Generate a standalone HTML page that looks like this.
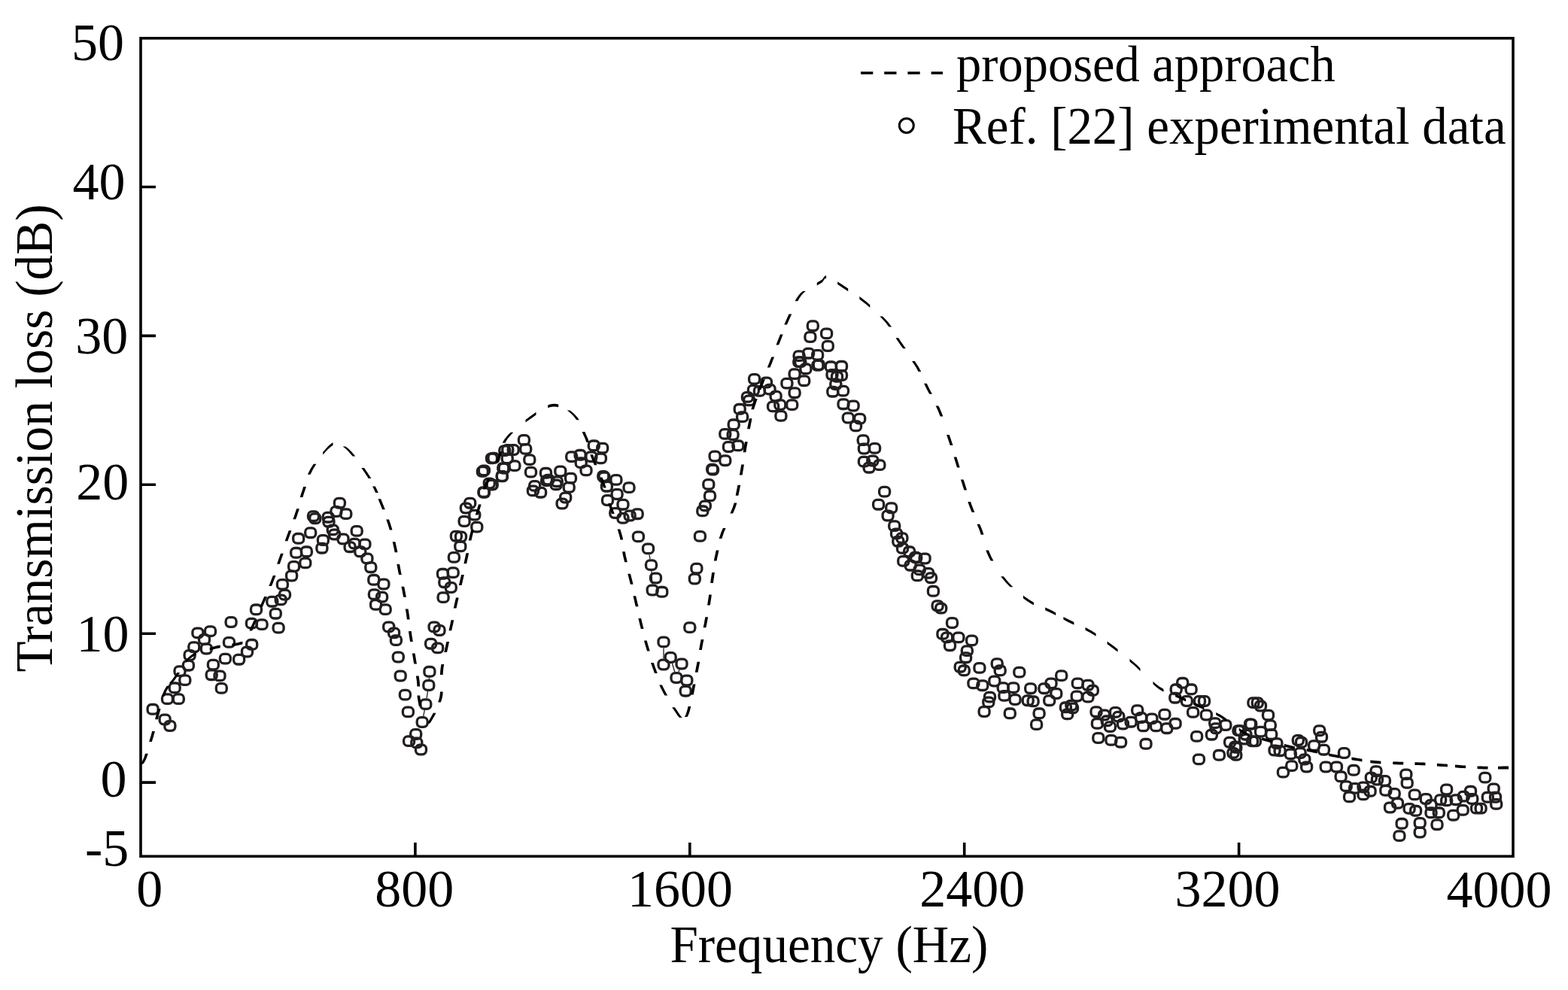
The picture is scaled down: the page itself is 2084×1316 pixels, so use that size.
<!DOCTYPE html>
<html><head><meta charset="utf-8"><title>Transmission loss vs frequency</title>
<style>
html,body{margin:0;padding:0;background:#fff;}
body{width:2084px;height:1316px;overflow:hidden;}
svg{display:block;}
text{font-family:'Liberation Serif','Times New Roman',serif;fill:#000;}
</style></head><body>
<svg width="2084" height="1316" viewBox="0 0 2084 1316">
<rect width="2084" height="1316" fill="#fff"/>
<path d="M562.7,952.1 L564.3,944.0 M567.1,928.2 L568.5,918.9 M570.3,903.0 L570.4,900.8 M863.0,737.3 L864.0,743.2 M865.9,759.1 L866.8,776.5 M882.0,861.4 L882.0,875.5 M893.4,881.7 L896.8,893.3 M901.9,893.4 L903.1,890.1" fill="none" stroke="#231f20" stroke-width="1.3"/>
<g fill="none" stroke="#231f20" stroke-width="3.3">
<rect x="196.1" y="936.5" width="14.0" height="12.6" rx="5.2"/>
<rect x="212.1" y="950.2" width="14.0" height="12.6" rx="5.2"/>
<rect x="218.9" y="958.7" width="14.0" height="12.6" rx="5.2"/>
<rect x="215.5" y="922.8" width="14.0" height="12.6" rx="5.2"/>
<rect x="230.3" y="922.8" width="14.0" height="12.6" rx="5.2"/>
<rect x="232.0" y="885.8" width="14.0" height="12.6" rx="5.2"/>
<rect x="238.8" y="897.8" width="14.0" height="12.6" rx="5.2"/>
<rect x="225.2" y="908.0" width="14.0" height="12.6" rx="5.2"/>
<rect x="243.4" y="878.4" width="14.0" height="12.6" rx="5.2"/>
<rect x="245.1" y="864.7" width="14.0" height="12.6" rx="5.2"/>
<rect x="250.8" y="853.9" width="14.0" height="12.6" rx="5.2"/>
<rect x="255.9" y="835.1" width="14.0" height="12.6" rx="5.2"/>
<rect x="272.5" y="832.8" width="14.0" height="12.6" rx="5.2"/>
<rect x="264.5" y="843.6" width="14.0" height="12.6" rx="5.2"/>
<rect x="267.3" y="856.2" width="14.0" height="12.6" rx="5.2"/>
<rect x="276.4" y="877.3" width="14.0" height="12.6" rx="5.2"/>
<rect x="274.2" y="890.9" width="14.0" height="12.6" rx="5.2"/>
<rect x="285.0" y="892.1" width="14.0" height="12.6" rx="5.2"/>
<rect x="287.3" y="908.6" width="14.0" height="12.6" rx="5.2"/>
<rect x="292.4" y="869.3" width="14.0" height="12.6" rx="5.2"/>
<rect x="297.5" y="847.6" width="14.0" height="12.6" rx="5.2"/>
<rect x="310.6" y="870.4" width="14.0" height="12.6" rx="5.2"/>
<rect x="321.5" y="860.2" width="14.0" height="12.6" rx="5.2"/>
<rect x="327.7" y="850.5" width="14.0" height="12.6" rx="5.2"/>
<rect x="300.1" y="820.7" width="14.0" height="12.6" rx="5.2"/>
<rect x="327.4" y="822.3" width="14.0" height="12.6" rx="5.2"/>
<rect x="341.1" y="823.8" width="14.0" height="12.6" rx="5.2"/>
<rect x="363.1" y="828.3" width="14.0" height="12.6" rx="5.2"/>
<rect x="359.3" y="809.4" width="14.0" height="12.6" rx="5.2"/>
<rect x="333.5" y="804.0" width="14.0" height="12.6" rx="5.2"/>
<rect x="354.8" y="793.4" width="14.0" height="12.6" rx="5.2"/>
<rect x="366.2" y="791.1" width="14.0" height="12.6" rx="5.2"/>
<rect x="371.5" y="784.3" width="14.0" height="12.6" rx="5.2"/>
<rect x="368.4" y="770.6" width="14.0" height="12.6" rx="5.2"/>
<rect x="380.6" y="759.2" width="14.0" height="12.6" rx="5.2"/>
<rect x="444.4" y="662.4" width="14.0" height="12.6" rx="5.2"/>
<rect x="452.8" y="676.8" width="14.0" height="12.6" rx="5.2"/>
<rect x="439.9" y="673.7" width="14.0" height="12.6" rx="5.2"/>
<rect x="409.5" y="679.8" width="14.0" height="12.6" rx="5.2"/>
<rect x="411.8" y="682.9" width="14.0" height="12.6" rx="5.2"/>
<rect x="429.2" y="681.4" width="14.0" height="12.6" rx="5.2"/>
<rect x="430.0" y="687.4" width="14.0" height="12.6" rx="5.2"/>
<rect x="435.3" y="698.1" width="14.0" height="12.6" rx="5.2"/>
<rect x="437.6" y="704.2" width="14.0" height="12.6" rx="5.2"/>
<rect x="405.7" y="701.9" width="14.0" height="12.6" rx="5.2"/>
<rect x="389.7" y="709.5" width="14.0" height="12.6" rx="5.2"/>
<rect x="422.4" y="711.7" width="14.0" height="12.6" rx="5.2"/>
<rect x="420.9" y="722.4" width="14.0" height="12.6" rx="5.2"/>
<rect x="400.4" y="727.0" width="14.0" height="12.6" rx="5.2"/>
<rect x="386.7" y="728.5" width="14.0" height="12.6" rx="5.2"/>
<rect x="398.8" y="742.1" width="14.0" height="12.6" rx="5.2"/>
<rect x="383.6" y="746.7" width="14.0" height="12.6" rx="5.2"/>
<rect x="449.0" y="710.2" width="14.0" height="12.6" rx="5.2"/>
<rect x="467.2" y="699.6" width="14.0" height="12.6" rx="5.2"/>
<rect x="458.1" y="720.9" width="14.0" height="12.6" rx="5.2"/>
<rect x="464.2" y="716.3" width="14.0" height="12.6" rx="5.2"/>
<rect x="477.9" y="717.1" width="14.0" height="12.6" rx="5.2"/>
<rect x="471.8" y="727.0" width="14.0" height="12.6" rx="5.2"/>
<rect x="480.9" y="736.1" width="14.0" height="12.6" rx="5.2"/>
<rect x="634.4" y="620.6" width="14.0" height="12.6" rx="5.2"/>
<rect x="646.5" y="603.1" width="14.0" height="12.6" rx="5.2"/>
<rect x="661.8" y="616.0" width="14.0" height="12.6" rx="5.2"/>
<rect x="667.8" y="591.7" width="14.0" height="12.6" rx="5.2"/>
<rect x="660.2" y="626.7" width="14.0" height="12.6" rx="5.2"/>
<rect x="646.5" y="638.0" width="14.0" height="12.6" rx="5.2"/>
<rect x="635.9" y="647.9" width="14.0" height="12.6" rx="5.2"/>
<rect x="617.7" y="662.4" width="14.0" height="12.6" rx="5.2"/>
<rect x="612.4" y="669.2" width="14.0" height="12.6" rx="5.2"/>
<rect x="623.8" y="678.3" width="14.0" height="12.6" rx="5.2"/>
<rect x="610.1" y="686.7" width="14.0" height="12.6" rx="5.2"/>
<rect x="626.8" y="694.3" width="14.0" height="12.6" rx="5.2"/>
<rect x="599.4" y="706.4" width="14.0" height="12.6" rx="5.2"/>
<rect x="605.5" y="707.2" width="14.0" height="12.6" rx="5.2"/>
<rect x="604.8" y="720.1" width="14.0" height="12.6" rx="5.2"/>
<rect x="596.4" y="734.6" width="14.0" height="12.6" rx="5.2"/>
<rect x="485.8" y="747.9" width="14.0" height="12.6" rx="5.2"/>
<rect x="489.8" y="764.5" width="14.0" height="12.6" rx="5.2"/>
<rect x="502.9" y="770.2" width="14.0" height="12.6" rx="5.2"/>
<rect x="490.4" y="783.8" width="14.0" height="12.6" rx="5.2"/>
<rect x="500.6" y="787.3" width="14.0" height="12.6" rx="5.2"/>
<rect x="492.6" y="797.5" width="14.0" height="12.6" rx="5.2"/>
<rect x="505.2" y="803.8" width="14.0" height="12.6" rx="5.2"/>
<rect x="509.7" y="827.1" width="14.0" height="12.6" rx="5.2"/>
<rect x="516.6" y="835.1" width="14.0" height="12.6" rx="5.2"/>
<rect x="519.4" y="844.8" width="14.0" height="12.6" rx="5.2"/>
<rect x="522.3" y="867.2" width="14.0" height="12.6" rx="5.2"/>
<rect x="581.5" y="756.5" width="14.0" height="12.6" rx="5.2"/>
<rect x="595.2" y="754.8" width="14.0" height="12.6" rx="5.2"/>
<rect x="583.8" y="767.9" width="14.0" height="12.6" rx="5.2"/>
<rect x="592.3" y="774.7" width="14.0" height="12.6" rx="5.2"/>
<rect x="582.1" y="787.8" width="14.0" height="12.6" rx="5.2"/>
<rect x="570.1" y="827.1" width="14.0" height="12.6" rx="5.2"/>
<rect x="577.0" y="831.7" width="14.0" height="12.6" rx="5.2"/>
<rect x="565.6" y="849.4" width="14.0" height="12.6" rx="5.2"/>
<rect x="574.7" y="855.1" width="14.0" height="12.6" rx="5.2"/>
<rect x="525.2" y="892.2" width="14.0" height="12.6" rx="5.2"/>
<rect x="531.4" y="917.3" width="14.0" height="12.6" rx="5.2"/>
<rect x="535.4" y="940.1" width="14.0" height="12.6" rx="5.2"/>
<rect x="563.9" y="886.5" width="14.0" height="12.6" rx="5.2"/>
<rect x="562.8" y="904.7" width="14.0" height="12.6" rx="5.2"/>
<rect x="558.8" y="929.8" width="14.0" height="12.6" rx="5.2"/>
<rect x="554.2" y="953.7" width="14.0" height="12.6" rx="5.2"/>
<rect x="545.7" y="969.7" width="14.0" height="12.6" rx="5.2"/>
<rect x="536.6" y="978.8" width="14.0" height="12.6" rx="5.2"/>
<rect x="546.8" y="981.1" width="14.0" height="12.6" rx="5.2"/>
<rect x="552.5" y="990.2" width="14.0" height="12.6" rx="5.2"/>
<rect x="689.4" y="578.6" width="14.0" height="12.6" rx="5.2"/>
<rect x="691.7" y="590.6" width="14.0" height="12.6" rx="5.2"/>
<rect x="696.8" y="604.8" width="14.0" height="12.6" rx="5.2"/>
<rect x="698.5" y="621.3" width="14.0" height="12.6" rx="5.2"/>
<rect x="676.9" y="612.8" width="14.0" height="12.6" rx="5.2"/>
<rect x="675.2" y="591.7" width="14.0" height="12.6" rx="5.2"/>
<rect x="667.2" y="603.1" width="14.0" height="12.6" rx="5.2"/>
<rect x="649.0" y="602.5" width="14.0" height="12.6" rx="5.2"/>
<rect x="663.2" y="616.2" width="14.0" height="12.6" rx="5.2"/>
<rect x="643.3" y="636.2" width="14.0" height="12.6" rx="5.2"/>
<rect x="660.4" y="627.0" width="14.0" height="12.6" rx="5.2"/>
<rect x="663.8" y="592.8" width="14.0" height="12.6" rx="5.2"/>
<rect x="636.4" y="619.1" width="14.0" height="12.6" rx="5.2"/>
<rect x="752.7" y="600.8" width="14.0" height="12.6" rx="5.2"/>
<rect x="764.1" y="598.5" width="14.0" height="12.6" rx="5.2"/>
<rect x="765.2" y="608.8" width="14.0" height="12.6" rx="5.2"/>
<rect x="772.0" y="619.1" width="14.0" height="12.6" rx="5.2"/>
<rect x="782.3" y="586.0" width="14.0" height="12.6" rx="5.2"/>
<rect x="793.7" y="589.4" width="14.0" height="12.6" rx="5.2"/>
<rect x="791.4" y="603.1" width="14.0" height="12.6" rx="5.2"/>
<rect x="778.9" y="600.8" width="14.0" height="12.6" rx="5.2"/>
<rect x="796.0" y="628.2" width="14.0" height="12.6" rx="5.2"/>
<rect x="811.9" y="631.6" width="14.0" height="12.6" rx="5.2"/>
<rect x="829.0" y="641.8" width="14.0" height="12.6" rx="5.2"/>
<rect x="718.5" y="622.5" width="14.0" height="12.6" rx="5.2"/>
<rect x="737.8" y="620.2" width="14.0" height="12.6" rx="5.2"/>
<rect x="751.5" y="629.3" width="14.0" height="12.6" rx="5.2"/>
<rect x="733.3" y="633.9" width="14.0" height="12.6" rx="5.2"/>
<rect x="703.7" y="639.6" width="14.0" height="12.6" rx="5.2"/>
<rect x="719.6" y="632.7" width="14.0" height="12.6" rx="5.2"/>
<rect x="647.2" y="638.1" width="14.0" height="12.6" rx="5.2"/>
<rect x="636.4" y="648.4" width="14.0" height="12.6" rx="5.2"/>
<rect x="701.4" y="646.1" width="14.0" height="12.6" rx="5.2"/>
<rect x="711.6" y="648.4" width="14.0" height="12.6" rx="5.2"/>
<rect x="721.9" y="631.3" width="14.0" height="12.6" rx="5.2"/>
<rect x="732.1" y="638.1" width="14.0" height="12.6" rx="5.2"/>
<rect x="749.2" y="641.6" width="14.0" height="12.6" rx="5.2"/>
<rect x="744.7" y="655.2" width="14.0" height="12.6" rx="5.2"/>
<rect x="740.1" y="663.2" width="14.0" height="12.6" rx="5.2"/>
<rect x="794.8" y="626.7" width="14.0" height="12.6" rx="5.2"/>
<rect x="799.4" y="640.4" width="14.0" height="12.6" rx="5.2"/>
<rect x="813.1" y="650.7" width="14.0" height="12.6" rx="5.2"/>
<rect x="800.5" y="658.7" width="14.0" height="12.6" rx="5.2"/>
<rect x="821.0" y="664.4" width="14.0" height="12.6" rx="5.2"/>
<rect x="810.8" y="675.7" width="14.0" height="12.6" rx="5.2"/>
<rect x="821.0" y="682.6" width="14.0" height="12.6" rx="5.2"/>
<rect x="830.1" y="679.2" width="14.0" height="12.6" rx="5.2"/>
<rect x="840.2" y="676.9" width="14.0" height="12.6" rx="5.2"/>
<rect x="841.4" y="707.1" width="14.0" height="12.6" rx="5.2"/>
<rect x="854.5" y="723.1" width="14.0" height="12.6" rx="5.2"/>
<rect x="858.5" y="744.8" width="14.0" height="12.6" rx="5.2"/>
<rect x="864.5" y="762.2" width="14.0" height="12.6" rx="5.2"/>
<rect x="940.5" y="618.3" width="14.0" height="12.6" rx="5.2"/>
<rect x="934.8" y="637.6" width="14.0" height="12.6" rx="5.2"/>
<rect x="936.5" y="653.0" width="14.0" height="12.6" rx="5.2"/>
<rect x="930.3" y="666.1" width="14.0" height="12.6" rx="5.2"/>
<rect x="926.8" y="673.0" width="14.0" height="12.6" rx="5.2"/>
<rect x="923.4" y="706.6" width="14.0" height="12.6" rx="5.2"/>
<rect x="918.9" y="749.3" width="14.0" height="12.6" rx="5.2"/>
<rect x="916.3" y="763.2" width="14.0" height="12.6" rx="5.2"/>
<rect x="860.2" y="778.2" width="14.0" height="12.6" rx="5.2"/>
<rect x="872.8" y="780.5" width="14.0" height="12.6" rx="5.2"/>
<rect x="909.8" y="827.8" width="14.0" height="12.6" rx="5.2"/>
<rect x="875.0" y="847.1" width="14.0" height="12.6" rx="5.2"/>
<rect x="884.2" y="867.7" width="14.0" height="12.6" rx="5.2"/>
<rect x="875.0" y="877.2" width="14.0" height="12.6" rx="5.2"/>
<rect x="899.0" y="876.2" width="14.0" height="12.6" rx="5.2"/>
<rect x="892.0" y="894.7" width="14.0" height="12.6" rx="5.2"/>
<rect x="905.8" y="898.2" width="14.0" height="12.6" rx="5.2"/>
<rect x="904.2" y="912.4" width="14.0" height="12.6" rx="5.2"/>
<rect x="939.7" y="617.3" width="14.0" height="12.6" rx="5.2"/>
<rect x="943.1" y="600.2" width="14.0" height="12.6" rx="5.2"/>
<rect x="956.8" y="605.9" width="14.0" height="12.6" rx="5.2"/>
<rect x="961.4" y="587.7" width="14.0" height="12.6" rx="5.2"/>
<rect x="973.9" y="586.0" width="14.0" height="12.6" rx="5.2"/>
<rect x="956.8" y="570.6" width="14.0" height="12.6" rx="5.2"/>
<rect x="967.1" y="571.7" width="14.0" height="12.6" rx="5.2"/>
<rect x="968.2" y="558.0" width="14.0" height="12.6" rx="5.2"/>
<rect x="979.6" y="547.8" width="14.0" height="12.6" rx="5.2"/>
<rect x="976.2" y="537.5" width="14.0" height="12.6" rx="5.2"/>
<rect x="986.4" y="521.6" width="14.0" height="12.6" rx="5.2"/>
<rect x="988.7" y="526.1" width="14.0" height="12.6" rx="5.2"/>
<rect x="995.6" y="497.6" width="14.0" height="12.6" rx="5.2"/>
<rect x="994.4" y="512.4" width="14.0" height="12.6" rx="5.2"/>
<rect x="1002.4" y="513.6" width="14.0" height="12.6" rx="5.2"/>
<rect x="1011.5" y="502.2" width="14.0" height="12.6" rx="5.2"/>
<rect x="1016.1" y="511.3" width="14.0" height="12.6" rx="5.2"/>
<rect x="1024.1" y="520.4" width="14.0" height="12.6" rx="5.2"/>
<rect x="1020.6" y="534.1" width="14.0" height="12.6" rx="5.2"/>
<rect x="1029.8" y="531.8" width="14.0" height="12.6" rx="5.2"/>
<rect x="1030.9" y="546.6" width="14.0" height="12.6" rx="5.2"/>
<rect x="1045.7" y="531.8" width="14.0" height="12.6" rx="5.2"/>
<rect x="1049.1" y="515.9" width="14.0" height="12.6" rx="5.2"/>
<rect x="1038.9" y="503.3" width="14.0" height="12.6" rx="5.2"/>
<rect x="1049.1" y="490.8" width="14.0" height="12.6" rx="5.2"/>
<rect x="1061.7" y="499.9" width="14.0" height="12.6" rx="5.2"/>
<rect x="1063.9" y="484.0" width="14.0" height="12.6" rx="5.2"/>
<rect x="1079.9" y="479.4" width="14.0" height="12.6" rx="5.2"/>
<rect x="1054.8" y="474.8" width="14.0" height="12.6" rx="5.2"/>
<rect x="1073.3" y="426.9" width="14.0" height="12.6" rx="5.2"/>
<rect x="1069.9" y="441.7" width="14.0" height="12.6" rx="5.2"/>
<rect x="1091.6" y="437.1" width="14.0" height="12.6" rx="5.2"/>
<rect x="1093.3" y="453.7" width="14.0" height="12.6" rx="5.2"/>
<rect x="1055.1" y="466.8" width="14.0" height="12.6" rx="5.2"/>
<rect x="1067.6" y="463.4" width="14.0" height="12.6" rx="5.2"/>
<rect x="1079.6" y="465.6" width="14.0" height="12.6" rx="5.2"/>
<rect x="1056.8" y="474.8" width="14.0" height="12.6" rx="5.2"/>
<rect x="1081.3" y="478.7" width="14.0" height="12.6" rx="5.2"/>
<rect x="1097.3" y="481.0" width="14.0" height="12.6" rx="5.2"/>
<rect x="1111.5" y="480.5" width="14.0" height="12.6" rx="5.2"/>
<rect x="1099.0" y="491.7" width="14.0" height="12.6" rx="5.2"/>
<rect x="1111.5" y="492.7" width="14.0" height="12.6" rx="5.2"/>
<rect x="1105.5" y="494.5" width="14.0" height="12.6" rx="5.2"/>
<rect x="1103.8" y="504.7" width="14.0" height="12.6" rx="5.2"/>
<rect x="1099.8" y="514.4" width="14.0" height="12.6" rx="5.2"/>
<rect x="1113.5" y="513.3" width="14.0" height="12.6" rx="5.2"/>
<rect x="1114.0" y="530.9" width="14.0" height="12.6" rx="5.2"/>
<rect x="1127.1" y="533.2" width="14.0" height="12.6" rx="5.2"/>
<rect x="1120.3" y="549.2" width="14.0" height="12.6" rx="5.2"/>
<rect x="1135.7" y="550.3" width="14.0" height="12.6" rx="5.2"/>
<rect x="1130.5" y="560.0" width="14.0" height="12.6" rx="5.2"/>
<rect x="1140.2" y="578.8" width="14.0" height="12.6" rx="5.2"/>
<rect x="1141.4" y="590.2" width="14.0" height="12.6" rx="5.2"/>
<rect x="1155.6" y="589.6" width="14.0" height="12.6" rx="5.2"/>
<rect x="1141.4" y="607.3" width="14.0" height="12.6" rx="5.2"/>
<rect x="1152.8" y="606.2" width="14.0" height="12.6" rx="5.2"/>
<rect x="1161.9" y="611.8" width="14.0" height="12.6" rx="5.2"/>
<rect x="1148.1" y="615.4" width="14.0" height="12.6" rx="5.2"/>
<rect x="1168.6" y="647.3" width="14.0" height="12.6" rx="5.2"/>
<rect x="1160.6" y="664.4" width="14.0" height="12.6" rx="5.2"/>
<rect x="1177.7" y="668.9" width="14.0" height="12.6" rx="5.2"/>
<rect x="1173.1" y="679.2" width="14.0" height="12.6" rx="5.2"/>
<rect x="1181.7" y="692.8" width="14.0" height="12.6" rx="5.2"/>
<rect x="1184.5" y="703.1" width="14.0" height="12.6" rx="5.2"/>
<rect x="1191.9" y="708.8" width="14.0" height="12.6" rx="5.2"/>
<rect x="1186.8" y="713.4" width="14.0" height="12.6" rx="5.2"/>
<rect x="1192.5" y="722.5" width="14.0" height="12.6" rx="5.2"/>
<rect x="1201.6" y="727.0" width="14.0" height="12.6" rx="5.2"/>
<rect x="1210.7" y="735.0" width="14.0" height="12.6" rx="5.2"/>
<rect x="1222.1" y="736.2" width="14.0" height="12.6" rx="5.2"/>
<rect x="1193.7" y="739.6" width="14.0" height="12.6" rx="5.2"/>
<rect x="1203.2" y="745.4" width="14.0" height="12.6" rx="5.2"/>
<rect x="1209.5" y="734.5" width="14.0" height="12.6" rx="5.2"/>
<rect x="1212.3" y="759.0" width="14.0" height="12.6" rx="5.2"/>
<rect x="1215.2" y="751.1" width="14.0" height="12.6" rx="5.2"/>
<rect x="1226.6" y="755.6" width="14.0" height="12.6" rx="5.2"/>
<rect x="1230.5" y="761.9" width="14.0" height="12.6" rx="5.2"/>
<rect x="1233.4" y="779.5" width="14.0" height="12.6" rx="5.2"/>
<rect x="1239.1" y="798.9" width="14.0" height="12.6" rx="5.2"/>
<rect x="1243.7" y="802.3" width="14.0" height="12.6" rx="5.2"/>
<rect x="1258.5" y="821.7" width="14.0" height="12.6" rx="5.2"/>
<rect x="1245.9" y="836.5" width="14.0" height="12.6" rx="5.2"/>
<rect x="1251.6" y="841.1" width="14.0" height="12.6" rx="5.2"/>
<rect x="1266.9" y="841.1" width="14.0" height="12.6" rx="5.2"/>
<rect x="1255.5" y="851.9" width="14.0" height="12.6" rx="5.2"/>
<rect x="1284.6" y="845.1" width="14.0" height="12.6" rx="5.2"/>
<rect x="1278.3" y="858.8" width="14.0" height="12.6" rx="5.2"/>
<rect x="1276.6" y="867.9" width="14.0" height="12.6" rx="5.2"/>
<rect x="1269.2" y="880.4" width="14.0" height="12.6" rx="5.2"/>
<rect x="1274.3" y="885.0" width="14.0" height="12.6" rx="5.2"/>
<rect x="1294.9" y="881.6" width="14.0" height="12.6" rx="5.2"/>
<rect x="1318.2" y="875.9" width="14.0" height="12.6" rx="5.2"/>
<rect x="1322.2" y="885.0" width="14.0" height="12.6" rx="5.2"/>
<rect x="1347.8" y="887.3" width="14.0" height="12.6" rx="5.2"/>
<rect x="1286.9" y="902.1" width="14.0" height="12.6" rx="5.2"/>
<rect x="1298.8" y="904.9" width="14.0" height="12.6" rx="5.2"/>
<rect x="1314.8" y="899.2" width="14.0" height="12.6" rx="5.2"/>
<rect x="1308.5" y="920.3" width="14.0" height="12.6" rx="5.2"/>
<rect x="1306.8" y="927.1" width="14.0" height="12.6" rx="5.2"/>
<rect x="1301.1" y="939.7" width="14.0" height="12.6" rx="5.2"/>
<rect x="1326.2" y="907.8" width="14.0" height="12.6" rx="5.2"/>
<rect x="1327.9" y="918.6" width="14.0" height="12.6" rx="5.2"/>
<rect x="1339.9" y="907.8" width="14.0" height="12.6" rx="5.2"/>
<rect x="1342.1" y="923.7" width="14.0" height="12.6" rx="5.2"/>
<rect x="1335.3" y="942.0" width="14.0" height="12.6" rx="5.2"/>
<rect x="1362.7" y="908.9" width="14.0" height="12.6" rx="5.2"/>
<rect x="1359.2" y="924.9" width="14.0" height="12.6" rx="5.2"/>
<rect x="1366.1" y="926.0" width="14.0" height="12.6" rx="5.2"/>
<rect x="1374.1" y="942.0" width="14.0" height="12.6" rx="5.2"/>
<rect x="1370.6" y="956.8" width="14.0" height="12.6" rx="5.2"/>
<rect x="1380.9" y="908.9" width="14.0" height="12.6" rx="5.2"/>
<rect x="1390.0" y="902.1" width="14.0" height="12.6" rx="5.2"/>
<rect x="1403.7" y="891.8" width="14.0" height="12.6" rx="5.2"/>
<rect x="1396.8" y="915.7" width="14.0" height="12.6" rx="5.2"/>
<rect x="1387.7" y="924.9" width="14.0" height="12.6" rx="5.2"/>
<rect x="1425.3" y="902.1" width="14.0" height="12.6" rx="5.2"/>
<rect x="1424.2" y="919.2" width="14.0" height="12.6" rx="5.2"/>
<rect x="1439.0" y="904.4" width="14.0" height="12.6" rx="5.2"/>
<rect x="1439.0" y="920.3" width="14.0" height="12.6" rx="5.2"/>
<rect x="1409.4" y="934.0" width="14.0" height="12.6" rx="5.2"/>
<rect x="1418.5" y="935.1" width="14.0" height="12.6" rx="5.2"/>
<rect x="1411.7" y="943.1" width="14.0" height="12.6" rx="5.2"/>
<rect x="1445.3" y="911.5" width="14.0" height="12.6" rx="5.2"/>
<rect x="1416.9" y="931.4" width="14.0" height="12.6" rx="5.2"/>
<rect x="1564.7" y="901.5" width="14.0" height="12.6" rx="5.2"/>
<rect x="1556.2" y="910.0" width="14.0" height="12.6" rx="5.2"/>
<rect x="1576.1" y="910.0" width="14.0" height="12.6" rx="5.2"/>
<rect x="1554.8" y="921.4" width="14.0" height="12.6" rx="5.2"/>
<rect x="1570.4" y="925.7" width="14.0" height="12.6" rx="5.2"/>
<rect x="1587.5" y="925.7" width="14.0" height="12.6" rx="5.2"/>
<rect x="1450.0" y="939.9" width="14.0" height="12.6" rx="5.2"/>
<rect x="1460.6" y="944.2" width="14.0" height="12.6" rx="5.2"/>
<rect x="1475.5" y="940.6" width="14.0" height="12.6" rx="5.2"/>
<rect x="1504.7" y="937.8" width="14.0" height="12.6" rx="5.2"/>
<rect x="1451.4" y="955.5" width="14.0" height="12.6" rx="5.2"/>
<rect x="1464.2" y="952.0" width="14.0" height="12.6" rx="5.2"/>
<rect x="1468.4" y="959.8" width="14.0" height="12.6" rx="5.2"/>
<rect x="1479.8" y="946.3" width="14.0" height="12.6" rx="5.2"/>
<rect x="1485.5" y="956.2" width="14.0" height="12.6" rx="5.2"/>
<rect x="1496.1" y="953.4" width="14.0" height="12.6" rx="5.2"/>
<rect x="1509.6" y="947.7" width="14.0" height="12.6" rx="5.2"/>
<rect x="1512.5" y="959.1" width="14.0" height="12.6" rx="5.2"/>
<rect x="1523.9" y="949.1" width="14.0" height="12.6" rx="5.2"/>
<rect x="1529.5" y="959.1" width="14.0" height="12.6" rx="5.2"/>
<rect x="1540.9" y="943.4" width="14.0" height="12.6" rx="5.2"/>
<rect x="1543.8" y="961.9" width="14.0" height="12.6" rx="5.2"/>
<rect x="1555.1" y="955.5" width="14.0" height="12.6" rx="5.2"/>
<rect x="1452.8" y="974.7" width="14.0" height="12.6" rx="5.2"/>
<rect x="1469.9" y="977.6" width="14.0" height="12.6" rx="5.2"/>
<rect x="1482.6" y="980.4" width="14.0" height="12.6" rx="5.2"/>
<rect x="1516.0" y="982.5" width="14.0" height="12.6" rx="5.2"/>
<rect x="1593.5" y="925.7" width="14.0" height="12.6" rx="5.2"/>
<rect x="1578.6" y="940.6" width="14.0" height="12.6" rx="5.2"/>
<rect x="1596.3" y="944.2" width="14.0" height="12.6" rx="5.2"/>
<rect x="1607.7" y="954.8" width="14.0" height="12.6" rx="5.2"/>
<rect x="1621.9" y="957.7" width="14.0" height="12.6" rx="5.2"/>
<rect x="1583.6" y="972.6" width="14.0" height="12.6" rx="5.2"/>
<rect x="1603.4" y="970.4" width="14.0" height="12.6" rx="5.2"/>
<rect x="1609.1" y="961.9" width="14.0" height="12.6" rx="5.2"/>
<rect x="1639.0" y="964.8" width="14.0" height="12.6" rx="5.2"/>
<rect x="1654.6" y="956.2" width="14.0" height="12.6" rx="5.2"/>
<rect x="1658.9" y="927.8" width="14.0" height="12.6" rx="5.2"/>
<rect x="1648.9" y="970.4" width="14.0" height="12.6" rx="5.2"/>
<rect x="1657.5" y="979.0" width="14.0" height="12.6" rx="5.2"/>
<rect x="1627.6" y="980.4" width="14.0" height="12.6" rx="5.2"/>
<rect x="1634.7" y="986.1" width="14.0" height="12.6" rx="5.2"/>
<rect x="1631.9" y="994.6" width="14.0" height="12.6" rx="5.2"/>
<rect x="1613.4" y="997.5" width="14.0" height="12.6" rx="5.2"/>
<rect x="1586.4" y="1003.1" width="14.0" height="12.6" rx="5.2"/>
<rect x="1664.3" y="927.9" width="14.0" height="12.6" rx="5.2"/>
<rect x="1668.5" y="932.2" width="14.0" height="12.6" rx="5.2"/>
<rect x="1678.5" y="944.3" width="14.0" height="12.6" rx="5.2"/>
<rect x="1655.7" y="956.3" width="14.0" height="12.6" rx="5.2"/>
<rect x="1641.5" y="964.9" width="14.0" height="12.6" rx="5.2"/>
<rect x="1681.3" y="957.8" width="14.0" height="12.6" rx="5.2"/>
<rect x="1668.5" y="966.3" width="14.0" height="12.6" rx="5.2"/>
<rect x="1682.7" y="969.8" width="14.0" height="12.6" rx="5.2"/>
<rect x="1661.4" y="979.1" width="14.0" height="12.6" rx="5.2"/>
<rect x="1647.2" y="976.2" width="14.0" height="12.6" rx="5.2"/>
<rect x="1635.8" y="987.6" width="14.0" height="12.6" rx="5.2"/>
<rect x="1635.8" y="997.6" width="14.0" height="12.6" rx="5.2"/>
<rect x="1689.9" y="981.9" width="14.0" height="12.6" rx="5.2"/>
<rect x="1687.0" y="991.2" width="14.0" height="12.6" rx="5.2"/>
<rect x="1694.1" y="991.9" width="14.0" height="12.6" rx="5.2"/>
<rect x="1718.3" y="977.7" width="14.0" height="12.6" rx="5.2"/>
<rect x="1722.5" y="980.5" width="14.0" height="12.6" rx="5.2"/>
<rect x="1708.3" y="996.1" width="14.0" height="12.6" rx="5.2"/>
<rect x="1721.1" y="994.7" width="14.0" height="12.6" rx="5.2"/>
<rect x="1726.8" y="1003.2" width="14.0" height="12.6" rx="5.2"/>
<rect x="1709.7" y="1011.8" width="14.0" height="12.6" rx="5.2"/>
<rect x="1729.6" y="1013.2" width="14.0" height="12.6" rx="5.2"/>
<rect x="1698.4" y="1020.3" width="14.0" height="12.6" rx="5.2"/>
<rect x="1746.7" y="964.9" width="14.0" height="12.6" rx="5.2"/>
<rect x="1749.5" y="973.4" width="14.0" height="12.6" rx="5.2"/>
<rect x="1739.6" y="984.8" width="14.0" height="12.6" rx="5.2"/>
<rect x="1752.4" y="990.4" width="14.0" height="12.6" rx="5.2"/>
<rect x="1779.4" y="994.7" width="14.0" height="12.6" rx="5.2"/>
<rect x="1755.2" y="1013.2" width="14.0" height="12.6" rx="5.2"/>
<rect x="1769.4" y="1013.2" width="14.0" height="12.6" rx="5.2"/>
<rect x="1775.1" y="1026.0" width="14.0" height="12.6" rx="5.2"/>
<rect x="1792.2" y="1017.5" width="14.0" height="12.6" rx="5.2"/>
<rect x="1782.2" y="1038.8" width="14.0" height="12.6" rx="5.2"/>
<rect x="1793.6" y="1041.6" width="14.0" height="12.6" rx="5.2"/>
<rect x="1805.0" y="1040.2" width="14.0" height="12.6" rx="5.2"/>
<rect x="1786.5" y="1053.0" width="14.0" height="12.6" rx="5.2"/>
<rect x="1805.0" y="1050.1" width="14.0" height="12.6" rx="5.2"/>
<rect x="1822.0" y="1018.9" width="14.0" height="12.6" rx="5.2"/>
<rect x="1823.4" y="1030.2" width="14.0" height="12.6" rx="5.2"/>
<rect x="1833.4" y="1031.7" width="14.0" height="12.6" rx="5.2"/>
<rect x="1834.8" y="1044.5" width="14.0" height="12.6" rx="5.2"/>
<rect x="1846.2" y="1048.7" width="14.0" height="12.6" rx="5.2"/>
<rect x="1840.5" y="1067.2" width="14.0" height="12.6" rx="5.2"/>
<rect x="1850.5" y="1061.5" width="14.0" height="12.6" rx="5.2"/>
<rect x="1861.8" y="1023.1" width="14.0" height="12.6" rx="5.2"/>
<rect x="1863.2" y="1034.5" width="14.0" height="12.6" rx="5.2"/>
<rect x="1873.2" y="1050.1" width="14.0" height="12.6" rx="5.2"/>
<rect x="1866.1" y="1068.6" width="14.0" height="12.6" rx="5.2"/>
<rect x="1874.6" y="1071.5" width="14.0" height="12.6" rx="5.2"/>
<rect x="1856.1" y="1088.5" width="14.0" height="12.6" rx="5.2"/>
<rect x="1815.3" y="1027.3" width="14.0" height="12.6" rx="5.2"/>
<rect x="1814.1" y="1045.5" width="14.0" height="12.6" rx="5.2"/>
<rect x="1888.2" y="1055.7" width="14.0" height="12.6" rx="5.2"/>
<rect x="1852.9" y="1104.8" width="14.0" height="12.6" rx="5.2"/>
<rect x="1880.2" y="1087.7" width="14.0" height="12.6" rx="5.2"/>
<rect x="1895.0" y="1063.7" width="14.0" height="12.6" rx="5.2"/>
<rect x="1895.0" y="1074.0" width="14.0" height="12.6" rx="5.2"/>
<rect x="1905.3" y="1074.0" width="14.0" height="12.6" rx="5.2"/>
<rect x="1903.0" y="1089.9" width="14.0" height="12.6" rx="5.2"/>
<rect x="1915.6" y="1043.2" width="14.0" height="12.6" rx="5.2"/>
<rect x="1915.6" y="1058.0" width="14.0" height="12.6" rx="5.2"/>
<rect x="1907.6" y="1056.9" width="14.0" height="12.6" rx="5.2"/>
<rect x="1928.1" y="1056.9" width="14.0" height="12.6" rx="5.2"/>
<rect x="1924.7" y="1077.4" width="14.0" height="12.6" rx="5.2"/>
<rect x="1937.2" y="1070.6" width="14.0" height="12.6" rx="5.2"/>
<rect x="1947.5" y="1045.5" width="14.0" height="12.6" rx="5.2"/>
<rect x="1949.8" y="1055.7" width="14.0" height="12.6" rx="5.2"/>
<rect x="1955.5" y="1068.3" width="14.0" height="12.6" rx="5.2"/>
<rect x="1961.1" y="1068.3" width="14.0" height="12.6" rx="5.2"/>
<rect x="1966.8" y="1027.3" width="14.0" height="12.6" rx="5.2"/>
<rect x="1978.2" y="1042.1" width="14.0" height="12.6" rx="5.2"/>
<rect x="1970.3" y="1053.5" width="14.0" height="12.6" rx="5.2"/>
<rect x="1980.5" y="1053.5" width="14.0" height="12.6" rx="5.2"/>
<rect x="1981.7" y="1062.6" width="14.0" height="12.6" rx="5.2"/>
<rect x="1938.4" y="1052.3" width="14.0" height="12.6" rx="5.2"/>
<rect x="1880.2" y="1100.2" width="14.0" height="12.6" rx="5.2"/>
</g>
<path d="M186.3,1015.8 L187.2,1014.8 L188.4,1013.1 L189.8,1010.5 L191.4,1006.7 L193.1,1001.8 L196.8,1001.8 L195.1,1006.7 L193.5,1010.5 L192.1,1013.1 L190.9,1014.8 L190.0,1015.8Z M198.2,986.0 L199.0,983.1 L200.0,980.0 L200.7,977.5 L201.5,974.5 L202.2,972.0 L205.9,972.0 L205.2,974.5 L204.4,977.5 L203.7,980.0 L202.7,983.1 L201.9,986.0Z M206.1,956.2 L206.7,953.7 L207.5,950.7 L208.2,948.2 L209.1,945.1 L209.9,942.2 L213.6,942.2 L212.8,945.1 L211.9,948.2 L211.2,950.7 L210.4,953.7 L209.8,956.2Z M214.8,925.8 L216.2,922.2 L217.7,918.8 L219.0,916.2 L220.5,913.7 L221.8,911.8 L225.5,911.8 L224.2,913.7 L222.7,916.2 L221.3,918.8 L219.9,922.2 L218.5,925.8Z M224.9,908.1 L226.5,906.2 L228.5,903.9 L230.7,901.1 L233.0,897.7 L235.3,894.1 L239.0,894.1 L236.7,897.7 L234.3,901.1 L232.2,903.9 L230.2,906.2 L228.6,908.1Z M247.1,877.6 L249.4,874.8 L252.0,872.4 L255.1,870.0 L257.9,868.2 L260.7,866.8 L260.7,870.5 L257.9,871.9 L255.1,873.7 L252.0,876.1 L249.4,878.5 L247.1,881.3Z M278.7,860.8 L281.5,860.1 L284.1,859.4 L287.3,858.6 L289.9,858.0 L292.7,857.5 L292.7,861.2 L289.9,861.7 L287.3,862.3 L284.1,863.1 L281.5,863.8 L278.7,864.5Z M308.4,855.5 L312.4,854.9 L316.1,854.2 L318.7,853.6 L320.9,853.1 L322.4,852.7 L322.4,856.4 L320.9,856.8 L318.7,857.3 L316.1,857.9 L312.4,858.6 L308.4,859.2Z M331.5,838.4 L332.4,836.1 L333.6,833.3 L334.7,830.7 L336.2,827.4 L337.5,824.4 L341.2,824.4 L339.9,827.4 L338.4,830.7 L337.3,833.3 L336.1,836.1 L335.2,838.4Z M345.1,807.0 L346.3,804.2 L347.7,801.0 L348.8,798.5 L350.1,795.6 L351.2,793.0 L354.9,793.0 L353.8,795.6 L352.5,798.5 L351.4,801.0 L350.0,804.2 L348.8,807.0Z M357.3,779.0 L358.3,776.7 L359.4,773.9 L360.7,770.6 L361.8,767.7 L362.8,765.0 L366.5,765.0 L365.5,767.7 L364.4,770.6 L363.1,773.9 L362.0,776.7 L361.0,779.0Z M368.1,749.7 L369.0,747.2 L370.0,744.2 L370.9,741.7 L372.0,738.7 L373.0,735.7 L376.7,735.7 L375.7,738.7 L374.6,741.7 L373.7,744.2 L372.7,747.2 L371.8,749.7Z M378.7,719.3 L379.7,716.3 L380.8,713.3 L381.7,710.8 L382.8,707.9 L383.7,705.3 L387.4,705.3 L386.5,707.9 L385.4,710.8 L384.5,713.3 L383.4,716.3 L382.4,719.3Z M389.4,690.3 L390.3,687.7 L391.4,684.8 L392.3,681.8 L393.3,678.9 L394.1,676.3 L397.8,676.3 L397.0,678.9 L396.0,681.8 L395.1,684.8 L394.0,687.7 L393.1,690.3Z M398.7,661.0 L399.5,658.4 L400.4,655.5 L401.3,653.0 L402.3,650.0 L403.2,647.0 L406.9,647.0 L406.0,650.0 L405.0,653.0 L404.1,655.5 L403.2,658.4 L402.4,661.0Z M408.9,630.8 L410.1,628.2 L411.6,625.3 L412.9,622.8 L414.8,619.8 L416.7,616.8 L420.4,616.8 L418.5,619.8 L416.6,622.8 L415.3,625.3 L413.8,628.2 L412.6,630.8Z M429.2,600.9 L432.7,596.9 L435.8,593.6 L438.6,591.0 L440.7,589.3 L442.5,588.3 L442.5,592.0 L440.7,593.0 L438.6,594.7 L435.8,597.3 L432.7,600.6 L429.2,604.6Z M455.5,593.4 L457.6,595.0 L460.0,597.1 L462.8,599.8 L465.6,602.9 L468.6,606.5 L472.3,606.5 L469.3,602.9 L466.5,599.8 L463.7,597.1 L461.3,595.0 L459.2,593.4Z M480.4,622.1 L482.7,625.4 L484.7,628.2 L486.6,631.2 L488.2,633.6 L489.6,636.1 L493.3,636.1 L491.9,633.6 L490.3,631.2 L488.4,628.2 L486.4,625.4 L484.1,622.1Z M495.1,646.5 L495.8,648.1 L496.8,650.1 L497.6,651.8 L498.5,653.8 L499.2,655.1 L502.9,655.1 L502.2,653.8 L501.3,651.8 L500.5,650.1 L499.5,648.1 L498.8,646.5Z M502.5,663.2 L503.4,665.5 L504.4,668.0 L505.6,671.0 L506.7,673.8 L508.1,677.2 L511.8,677.2 L510.4,673.8 L509.3,671.0 L508.1,668.0 L507.1,665.5 L506.2,663.2Z M513.3,690.5 L514.2,693.2 L515.2,696.1 L516.1,698.9 L517.0,701.8 L517.7,704.5 L521.4,704.5 L520.7,701.8 L519.8,698.9 L518.9,696.1 L517.9,693.2 L517.0,690.5Z M521.7,720.2 L522.3,722.7 L522.9,725.7 L523.6,728.7 L524.2,731.7 L524.7,734.2 L528.4,734.2 L527.9,731.7 L527.3,728.7 L526.6,725.7 L526.0,722.7 L525.4,720.2Z M527.4,750.0 L527.8,752.5 L528.4,755.5 L528.9,758.5 L529.5,761.5 L530.1,764.0 L533.8,764.0 L533.2,761.5 L532.6,758.5 L532.1,755.5 L531.5,752.5 L531.1,750.0Z M533.4,779.7 L534.0,782.2 L534.6,785.2 L535.1,788.2 L535.7,791.2 L536.2,793.7 L539.9,793.7 L539.4,791.2 L538.8,788.2 L538.3,785.2 L537.7,782.2 L537.1,779.7Z M538.8,809.4 L539.3,812.0 L539.7,814.9 L540.2,817.9 L540.6,820.8 L540.9,823.4 L544.6,823.4 L544.3,820.8 L543.9,817.9 L543.4,814.9 L543.0,812.0 L542.5,809.4Z M543.0,839.0 L543.3,841.6 L543.7,844.5 L544.2,847.5 L544.7,850.4 L545.1,853.0 L548.8,853.0 L548.4,850.4 L547.9,847.5 L547.4,844.5 L547.0,841.6 L546.7,839.0Z M547.8,868.6 L548.3,871.1 L548.8,874.1 L549.2,876.6 L549.7,879.7 L550.3,882.6 L554.0,882.6 L553.4,879.7 L552.9,876.6 L552.5,874.1 L552.0,871.1 L551.5,868.6Z M552.9,898.5 L553.3,901.3 L553.8,904.6 L554.1,907.3 L554.3,910.3 L554.4,912.5 L558.1,912.5 L558.0,910.3 L557.8,907.3 L557.5,904.6 L557.0,901.3 L556.6,898.5Z M554.5,924.5 L554.7,926.9 L555.1,929.5 L555.5,932.0 L556.1,935.3 L556.7,938.5 L560.4,938.5 L559.8,935.3 L559.2,932.0 L558.8,929.5 L558.4,926.9 L558.2,924.5Z M567.5,961.8 L568.8,960.0 L570.3,957.4 L571.9,954.8 L573.8,951.4 L575.8,947.8 L579.5,947.8 L577.5,951.4 L575.6,954.8 L574.0,957.4 L572.5,960.0 L571.2,961.8Z M582.2,933.6 L583.0,930.9 L583.8,928.2 L584.5,925.0 L584.8,922.1 L585.0,919.6 L588.7,919.6 L588.5,922.1 L588.2,925.0 L587.5,928.2 L586.7,930.9 L585.9,933.6Z M585.0,897.1 L585.1,894.1 L585.3,891.2 L585.7,887.9 L586.1,885.2 L586.5,883.1 L590.2,883.1 L589.8,885.2 L589.4,887.9 L589.0,891.2 L588.8,894.1 L588.7,897.1Z M590.2,867.0 L590.9,864.4 L591.5,861.5 L592.2,858.5 L592.8,855.6 L593.4,853.0 L597.1,853.0 L596.5,855.6 L595.9,858.5 L595.2,861.5 L594.6,864.4 L593.9,867.0Z M596.5,838.2 L597.1,835.6 L597.7,832.7 L598.4,829.7 L599.0,826.8 L599.5,824.2 L603.2,824.2 L602.7,826.8 L602.1,829.7 L601.4,832.7 L600.8,835.6 L600.2,838.2Z M602.8,808.5 L603.5,805.5 L604.0,803.0 L604.7,800.0 L605.3,797.5 L606.0,794.5 L609.7,794.5 L609.0,797.5 L608.4,800.0 L607.7,803.0 L607.2,805.5 L606.5,808.5Z M609.9,778.0 L610.6,775.0 L611.3,772.0 L611.9,769.5 L612.6,766.6 L613.1,764.0 L616.8,764.0 L616.3,766.6 L615.6,769.5 L615.0,772.0 L614.3,775.0 L613.6,778.0Z M616.4,749.3 L617.0,746.7 L617.6,743.8 L618.3,740.8 L618.9,737.8 L619.4,735.3 L623.1,735.3 L622.6,737.8 L622.0,740.8 L621.3,743.8 L620.7,746.7 L620.1,749.3Z M622.7,718.5 L623.2,716.3 L624.0,713.1 L624.6,710.4 L625.5,707.1 L626.1,704.5 L629.8,704.5 L629.2,707.1 L628.3,710.4 L627.7,713.1 L626.9,716.3 L626.4,718.5Z M631.8,684.4 L632.5,682.0 L633.3,679.1 L634.4,675.7 L635.2,672.9 L635.9,670.4 L639.6,670.4 L638.9,672.9 L638.1,675.7 L637.0,679.1 L636.2,682.0 L635.5,684.4Z M642.0,650.4 L642.8,648.0 L643.9,645.1 L645.0,642.2 L646.3,639.2 L647.5,636.4 L651.2,636.4 L650.0,639.2 L648.7,642.2 L647.6,645.1 L646.5,648.0 L645.7,650.4Z M658.3,614.2 L659.8,610.9 L661.1,608.2 L662.4,605.2 L663.3,602.8 L664.1,600.2 L667.8,600.2 L667.0,602.8 L666.1,605.2 L664.8,608.2 L663.5,610.9 L662.0,614.2Z M667.8,588.7 L669.2,585.9 L670.8,583.4 L673.3,580.4 L675.8,577.6 L678.7,574.7 L682.4,574.7 L679.5,577.6 L677.0,580.4 L674.5,583.4 L672.9,585.9 L671.5,588.7Z M698.5,557.9 L701.2,555.9 L704.5,553.6 L707.0,551.8 L710.1,549.6 L712.5,547.8 L712.5,551.5 L710.1,553.3 L707.0,555.5 L704.5,557.3 L701.2,559.6 L698.5,561.6Z M728.2,538.5 L730.9,537.6 L733.8,537.0 L736.6,536.8 L739.5,537.0 L742.2,537.5 L742.2,541.2 L739.5,540.7 L736.6,540.5 L733.8,540.7 L730.9,541.3 L728.2,542.2Z M753.7,545.6 L756.4,547.6 L759.2,549.9 L761.7,552.4 L764.0,555.3 L766.1,558.3 L769.8,558.3 L767.7,555.3 L765.4,552.4 L762.9,549.9 L760.1,547.6 L757.4,545.6Z M773.7,573.9 L774.9,576.9 L776.2,579.9 L777.3,582.3 L778.4,585.2 L779.4,587.9 L783.1,587.9 L782.1,585.2 L781.0,582.3 L779.9,579.9 L778.6,576.9 L777.4,573.9Z M784.4,604.2 L785.3,606.9 L786.2,609.4 L787.5,612.5 L788.6,615.2 L789.8,618.2 L793.5,618.2 L792.3,615.2 L791.2,612.5 L790.0,609.4 L789.0,606.9 L788.1,604.2Z M796.8,634.4 L797.8,637.0 L798.9,639.7 L800.1,643.0 L801.1,645.8 L802.0,648.4 L805.7,648.4 L804.8,645.8 L803.8,643.0 L802.6,639.7 L801.5,637.0 L800.5,634.4Z M808.2,669.0 L809.0,671.6 L810.0,674.4 L810.9,677.3 L812.0,680.2 L813.0,683.0 L816.7,683.0 L815.7,680.2 L814.6,677.3 L813.7,674.4 L812.7,671.6 L811.9,669.0Z M820.6,703.5 L821.4,706.0 L822.4,709.4 L823.2,712.1 L824.0,715.3 L824.4,717.5 L828.1,717.5 L827.7,715.3 L826.9,712.1 L826.1,709.4 L825.1,706.0 L824.3,703.5Z M827.1,733.2 L827.6,736.0 L828.2,739.3 L828.9,742.0 L829.6,745.1 L830.1,747.2 L833.8,747.2 L833.3,745.1 L832.6,742.0 L831.9,739.3 L831.3,736.0 L830.8,733.2Z M834.3,762.8 L835.0,765.4 L835.6,767.9 L836.4,771.1 L837.1,773.8 L837.8,776.8 L841.5,776.8 L840.8,773.8 L840.1,771.1 L839.3,767.9 L838.7,765.4 L838.0,762.8Z M841.5,792.3 L842.1,795.0 L842.9,798.2 L843.5,800.9 L844.2,803.9 L844.8,806.3 L848.5,806.3 L847.9,803.9 L847.2,800.9 L846.6,798.2 L845.8,795.0 L845.2,792.3Z M848.4,821.9 L849.0,824.5 L849.7,827.4 L850.4,830.4 L851.2,833.4 L851.8,835.9 L855.5,835.9 L854.9,833.4 L854.1,830.4 L853.4,827.4 L852.7,824.5 L852.1,821.9Z M856.0,851.6 L856.7,854.2 L857.5,857.1 L858.4,860.1 L859.3,863.0 L860.0,865.6 L863.7,865.6 L863.0,863.0 L862.1,860.1 L861.2,857.1 L860.4,854.2 L859.7,851.6Z M865.0,881.0 L865.9,883.6 L866.9,886.5 L868.0,889.5 L869.1,892.4 L870.0,895.0 L873.7,895.0 L872.8,892.4 L871.7,889.5 L870.6,886.5 L869.6,883.6 L868.7,881.0Z M876.3,910.6 L877.5,913.2 L878.9,916.1 L880.2,918.6 L881.9,921.7 L883.5,924.6 L887.2,924.6 L885.6,921.7 L883.9,918.6 L882.6,916.1 L881.2,913.2 L880.0,910.6Z M893.2,940.2 L896.8,945.5 L899.4,949.4 L901.0,951.7 L902.2,953.2 L903.2,953.9 L906.9,953.9 L905.9,953.2 L904.7,951.7 L903.1,949.4 L900.5,945.5 L896.9,940.2Z M909.7,953.1 L910.4,952.0 L911.3,950.2 L912.4,947.2 L913.5,943.6 L914.6,939.1 L918.3,939.1 L917.2,943.6 L916.1,947.2 L915.0,950.2 L914.1,952.0 L913.4,953.1Z M918.0,923.4 L918.7,920.1 L919.1,917.8 L919.8,914.3 L920.3,912.0 L920.8,909.4 L924.5,909.4 L924.0,912.0 L923.5,914.3 L922.8,917.8 L922.4,920.1 L921.7,923.4Z M923.8,893.7 L924.4,890.8 L925.0,887.5 L925.6,884.5 L926.1,881.9 L926.5,879.7 L930.2,879.7 L929.8,881.9 L929.3,884.5 L928.7,887.5 L928.1,890.8 L927.5,893.7Z M929.1,863.9 L929.5,861.5 L930.0,858.8 L930.6,855.4 L931.2,852.4 L931.7,849.9 L935.4,849.9 L934.9,852.4 L934.3,855.4 L933.7,858.8 L933.2,861.5 L932.8,863.9Z M934.7,834.2 L935.2,831.6 L935.8,828.7 L936.3,825.7 L936.9,822.8 L937.3,820.2 L941.0,820.2 L940.6,822.8 L940.0,825.7 L939.5,828.7 L938.9,831.6 L938.4,834.2Z M940.0,804.6 L940.5,802.0 L940.9,799.1 L941.4,796.1 L941.8,793.2 L942.1,790.6 L945.8,790.6 L945.5,793.2 L945.1,796.1 L944.6,799.1 L944.2,802.0 L943.7,804.6Z M944.2,775.0 L944.5,772.4 L944.9,769.5 L945.4,766.5 L945.8,763.6 L946.2,761.0 L949.9,761.0 L949.5,763.6 L949.1,766.5 L948.6,769.5 L948.2,772.4 L947.9,775.0Z M948.8,745.5 L949.3,742.9 L949.9,740.0 L950.6,737.0 L951.2,734.1 L951.8,731.5 L955.5,731.5 L954.9,734.1 L954.3,737.0 L953.6,740.0 L953.0,742.9 L952.5,745.5Z M955.6,716.1 L956.4,713.7 L957.4,710.7 L958.3,708.0 L959.7,704.8 L960.9,702.1 L964.6,702.1 L963.4,704.8 L962.0,708.0 L961.1,710.7 L960.1,713.7 L959.3,716.1Z M970.4,682.6 L971.7,679.6 L973.0,676.6 L974.2,673.3 L975.0,670.7 L975.6,668.6 L979.3,668.6 L978.7,670.7 L977.9,673.3 L976.7,676.6 L975.4,679.6 L974.1,682.6Z M977.7,658.7 L978.2,656.1 L978.7,653.4 L979.3,650.4 L979.9,647.4 L980.5,644.7 L984.2,644.7 L983.6,647.4 L983.0,650.4 L982.4,653.4 L981.9,656.1 L981.4,658.7Z M982.9,631.6 L983.3,628.9 L983.8,626.0 L984.3,623.2 L984.8,620.2 L985.2,617.6 L988.9,617.6 L988.5,620.2 L988.0,623.2 L987.5,626.0 L987.0,628.9 L986.6,631.6Z M987.6,601.3 L988.1,598.4 L988.5,595.8 L989.0,592.8 L989.5,590.1 L990.0,587.3 L993.7,587.3 L993.2,590.1 L992.7,592.8 L992.2,595.8 L991.8,598.4 L991.3,601.3Z M993.1,570.2 L993.7,566.9 L994.3,564.1 L994.9,561.0 L995.3,558.6 L995.8,556.2 L999.5,556.2 L999.0,558.6 L998.6,561.0 L998.0,564.1 L997.4,566.9 L996.8,570.2Z M998.4,544.2 L999.0,542.1 L1000.0,539.1 L1000.9,536.4 L1002.0,533.1 L1003.1,530.2 L1006.8,530.2 L1005.7,533.1 L1004.6,536.4 L1003.7,539.1 L1002.7,542.1 L1002.1,544.2Z M1007.7,518.2 L1008.7,515.7 L1009.9,512.7 L1011.0,509.7 L1012.2,506.8 L1013.3,504.2 L1017.0,504.2 L1015.9,506.8 L1014.7,509.7 L1013.6,512.7 L1012.4,515.7 L1011.4,518.2Z M1019.8,488.4 L1020.8,485.9 L1022.1,482.9 L1023.0,480.4 L1024.2,477.4 L1025.4,474.4 L1029.1,474.4 L1027.9,477.4 L1026.7,480.4 L1025.8,482.9 L1024.5,485.9 L1023.5,488.4Z M1031.4,458.6 L1032.5,455.9 L1033.6,453.0 L1034.9,449.7 L1036.0,447.0 L1036.9,444.6 L1040.6,444.6 L1039.7,447.0 L1038.6,449.7 L1037.3,453.0 L1036.2,455.9 L1035.1,458.6Z M1042.3,431.5 L1043.3,429.2 L1044.5,426.4 L1045.8,423.5 L1047.3,420.3 L1048.5,417.5 L1052.2,417.5 L1051.0,420.3 L1049.5,423.5 L1048.2,426.4 L1047.0,429.2 L1046.0,431.5Z M1056.6,400.3 L1058.7,396.5 L1061.1,392.9 L1063.2,390.5 L1065.5,388.3 L1067.3,387.0 L1071.0,387.0 L1069.2,388.3 L1066.9,390.5 L1064.8,392.9 L1062.4,396.5 L1060.3,400.3Z M1085.8,375.7 L1089.7,373.6 L1092.9,371.6 L1094.7,369.0 L1096.0,366.9 L1098.1,366.2 L1098.1,369.9 L1096.0,370.6 L1094.7,372.7 L1092.9,375.3 L1089.7,377.3 L1085.8,379.4Z M1113.2,374.3 L1115.6,375.9 L1118.5,377.8 L1121.0,379.5 L1124.1,381.5 L1127.2,383.6 L1127.2,387.3 L1124.1,385.2 L1121.0,383.2 L1118.5,381.5 L1115.6,379.6 L1113.2,378.0Z M1142.3,394.0 L1144.9,396.0 L1147.8,398.3 L1150.8,400.6 L1153.7,403.1 L1156.3,405.2 L1156.3,408.9 L1153.7,406.8 L1150.8,404.3 L1147.8,402.0 L1144.9,399.7 L1142.3,397.7Z M1169.3,420.5 L1171.8,423.0 L1174.8,426.2 L1177.1,428.8 L1179.5,431.9 L1181.4,434.5 L1185.1,434.5 L1183.2,431.9 L1180.8,428.8 L1178.5,426.2 L1175.5,423.0 L1173.0,420.5Z M1190.6,449.3 L1192.2,451.9 L1194.2,454.8 L1195.9,457.3 L1198.1,460.5 L1200.2,463.3 L1203.9,463.3 L1201.8,460.5 L1199.6,457.3 L1197.8,454.8 L1195.9,451.9 L1194.3,449.3Z M1212.1,480.1 L1214.0,482.9 L1215.7,485.5 L1217.6,488.6 L1219.0,491.2 L1220.6,494.1 L1224.3,494.1 L1222.7,491.2 L1221.3,488.6 L1219.4,485.5 L1217.7,482.9 L1215.8,480.1Z M1228.0,509.7 L1229.3,512.3 L1230.7,515.2 L1232.2,518.2 L1233.7,521.1 L1235.2,523.7 L1238.9,523.7 L1237.4,521.1 L1235.9,518.2 L1234.4,515.2 L1233.0,512.3 L1231.7,509.7Z M1243.6,539.4 L1244.9,542.0 L1246.1,544.7 L1247.3,547.6 L1248.5,550.6 L1249.6,553.4 L1253.3,553.4 L1252.2,550.6 L1251.0,547.6 L1249.8,544.7 L1248.6,542.0 L1247.3,539.4Z M1258.1,578.1 L1259.1,581.0 L1260.1,584.0 L1261.2,587.3 L1262.1,590.0 L1262.8,592.1 L1266.5,592.1 L1265.8,590.0 L1264.9,587.3 L1263.8,584.0 L1262.8,581.0 L1261.8,578.1Z M1267.7,607.5 L1268.5,610.2 L1269.4,613.0 L1270.3,616.0 L1271.2,619.0 L1272.0,621.5 L1275.7,621.5 L1274.9,619.0 L1274.0,616.0 L1273.1,613.0 L1272.2,610.2 L1271.4,607.5Z M1276.9,637.4 L1277.7,639.9 L1278.7,642.9 L1279.6,645.9 L1280.6,648.9 L1281.3,651.4 L1285.0,651.4 L1284.3,648.9 L1283.3,645.9 L1282.4,642.9 L1281.4,639.9 L1280.6,637.4Z M1286.4,667.1 L1287.2,669.7 L1288.3,672.6 L1289.4,675.6 L1290.6,678.5 L1291.7,681.1 L1295.4,681.1 L1294.3,678.5 L1293.1,675.6 L1292.0,672.6 L1290.9,669.7 L1290.1,667.1Z M1298.5,696.7 L1299.4,698.9 L1300.7,702.1 L1301.8,704.8 L1303.0,708.2 L1303.7,710.7 L1307.4,710.7 L1306.7,708.2 L1305.5,704.8 L1304.4,702.1 L1303.1,698.9 L1302.2,696.7Z M1310.3,731.5 L1311.3,734.2 L1312.6,737.3 L1314.0,740.2 L1315.4,743.1 L1316.7,745.5 L1320.4,745.5 L1319.1,743.1 L1317.6,740.2 L1316.3,737.3 L1315.0,734.2 L1314.0,731.5Z M1330.2,766.3 L1332.6,769.3 L1335.1,772.3 L1337.2,774.7 L1339.9,777.6 L1342.6,780.3 L1346.3,780.3 L1343.6,777.6 L1340.9,774.7 L1338.8,772.3 L1336.3,769.3 L1333.9,766.3Z M1359.9,791.6 L1362.5,793.5 L1365.4,795.6 L1368.4,797.5 L1371.3,799.3 L1373.9,800.7 L1373.9,804.4 L1371.3,803.0 L1368.4,801.2 L1365.4,799.3 L1362.5,797.2 L1359.9,795.3Z M1389.2,807.5 L1392.1,808.8 L1394.8,810.1 L1398.0,811.6 L1400.5,812.9 L1403.2,814.4 L1403.2,818.1 L1400.5,816.6 L1398.0,815.3 L1394.8,813.8 L1392.1,812.5 L1389.2,811.2Z M1413.4,819.9 L1416.1,821.4 L1418.7,822.7 L1421.7,824.2 L1424.5,825.5 L1427.4,826.9 L1427.4,830.6 L1424.5,829.2 L1421.7,827.9 L1418.7,826.4 L1416.1,825.1 L1413.4,823.6Z M1442.5,834.0 L1445.1,835.3 L1448.0,836.9 L1451.0,838.6 L1453.9,840.4 L1456.5,842.1 L1456.5,845.8 L1453.9,844.1 L1451.0,842.3 L1448.0,840.6 L1445.1,839.0 L1442.5,837.7Z M1471.6,852.5 L1474.2,854.4 L1477.1,856.6 L1480.1,858.8 L1483.0,861.0 L1485.6,862.9 L1485.6,866.6 L1483.0,864.7 L1480.1,862.5 L1477.1,860.3 L1474.2,858.1 L1471.6,856.2Z M1501.5,875.7 L1504.5,878.2 L1507.0,880.4 L1510.0,883.1 L1512.6,885.6 L1515.5,888.5 L1515.5,892.2 L1512.6,889.3 L1510.0,886.8 L1507.0,884.1 L1504.5,881.9 L1501.5,879.4Z M1532.5,905.8 L1535.4,908.4 L1538.0,910.5 L1541.0,912.7 L1543.6,914.3 L1546.5,916.0 L1546.5,919.7 L1543.6,918.0 L1541.0,916.4 L1538.0,914.2 L1535.4,912.1 L1532.5,909.5Z M1562.2,922.7 L1565.1,923.9 L1568.3,925.2 L1571.0,926.5 L1573.9,927.8 L1576.2,928.8 L1576.2,932.5 L1573.9,931.5 L1571.0,930.2 L1568.3,928.9 L1565.1,927.6 L1562.2,926.4Z M1586.4,933.4 L1589.1,934.6 L1591.6,935.7 L1594.8,937.2 L1597.5,938.4 L1600.4,939.7 L1600.4,943.4 L1597.5,942.1 L1594.8,940.9 L1591.6,939.4 L1589.1,938.3 L1586.4,937.1Z M1616.2,946.9 L1619.0,948.4 L1621.6,949.8 L1624.8,951.7 L1627.4,953.5 L1630.2,955.4 L1630.2,959.1 L1627.4,957.2 L1624.8,955.4 L1621.6,953.5 L1619.0,952.1 L1616.2,950.6Z M1646.7,967.6 L1649.6,969.7 L1652.3,971.4 L1655.4,973.2 L1657.9,974.4 L1660.7,975.6 L1660.7,979.3 L1657.9,978.1 L1655.4,976.9 L1652.3,975.1 L1649.6,973.4 L1646.7,971.3Z M1677.1,980.3 L1679.8,981.0 L1682.7,981.7 L1685.6,982.6 L1688.5,983.5 L1691.1,984.3 L1691.1,988.0 L1688.5,987.2 L1685.6,986.3 L1682.7,985.4 L1679.8,984.7 L1677.1,984.0Z M1706.9,988.9 L1709.4,989.5 L1712.4,990.3 L1715.4,991.0 L1718.4,991.7 L1720.9,992.2 L1720.9,995.9 L1718.4,995.4 L1715.4,994.7 L1712.4,994.0 L1709.4,993.2 L1706.9,992.6Z M1736.8,995.0 L1739.4,995.5 L1742.3,996.1 L1745.3,996.7 L1748.2,997.3 L1750.8,997.9 L1750.8,1001.6 L1748.2,1001.0 L1745.3,1000.4 L1742.3,999.8 L1739.4,999.2 L1736.8,998.7Z M1765.9,1001.3 L1768.5,1001.9 L1771.4,1002.5 L1773.9,1002.9 L1776.9,1003.5 L1779.9,1004.0 L1779.9,1007.7 L1776.9,1007.2 L1773.9,1006.6 L1771.4,1006.2 L1768.5,1005.6 L1765.9,1005.0Z M1796.4,1006.6 L1799.1,1007.0 L1802.5,1007.5 L1805.2,1007.9 L1808.2,1008.4 L1810.4,1008.8 L1810.4,1012.5 L1808.2,1012.1 L1805.2,1011.6 L1802.5,1011.2 L1799.1,1010.7 L1796.4,1010.3Z M1821.3,1010.5 L1823.5,1010.7 L1826.5,1011.1 L1829.2,1011.3 L1832.5,1011.6 L1835.3,1011.8 L1835.3,1015.5 L1832.5,1015.3 L1829.2,1015.0 L1826.5,1014.8 L1823.5,1014.4 L1821.3,1014.2Z M1851.2,1012.4 L1853.8,1012.5 L1856.7,1012.6 L1859.6,1012.7 L1862.4,1012.8 L1865.2,1012.8 L1865.2,1016.5 L1862.4,1016.5 L1859.6,1016.4 L1856.7,1016.3 L1853.8,1016.2 L1851.2,1016.1Z M1880.4,1013.2 L1883.0,1013.2 L1885.9,1013.4 L1888.4,1013.5 L1891.5,1013.6 L1894.4,1013.8 L1894.4,1017.5 L1891.5,1017.3 L1888.4,1017.2 L1885.9,1017.1 L1883.0,1016.9 L1880.4,1016.9Z M1909.9,1014.8 L1912.6,1015.0 L1916.0,1015.2 L1918.7,1015.4 L1921.7,1015.6 L1923.9,1015.8 L1923.9,1019.5 L1921.7,1019.3 L1918.7,1019.1 L1916.0,1018.9 L1912.6,1018.7 L1909.9,1018.5Z M1934.0,1016.6 L1936.3,1016.8 L1939.3,1017.0 L1941.9,1017.2 L1945.2,1017.4 L1948.0,1017.6 L1948.0,1021.3 L1945.2,1021.1 L1941.9,1020.9 L1939.3,1020.7 L1936.3,1020.5 L1934.0,1020.3Z M1963.5,1018.4 L1966.1,1018.5 L1969.1,1018.6 L1971.9,1018.7 L1974.9,1018.7 L1977.5,1018.8 L1977.5,1022.5 L1974.9,1022.4 L1971.9,1022.4 L1969.1,1022.3 L1966.1,1022.2 L1963.5,1022.1Z M1991.0,1018.7 L1994.8,1018.7 L1998.0,1018.6 L2000.9,1018.6 L2003.1,1018.6 L2005.0,1018.6 L2005.0,1022.4 L2003.1,1022.4 L2000.9,1022.4 L1998.0,1022.4 L1994.8,1022.4 L1991.0,1022.4Z" fill="#000" stroke="none"/>
<g stroke="#000" stroke-width="3.6" fill="none">
<rect x="187" y="50.8" width="1824" height="1087.5"/>
<path d="M187,248.5H207 M187,446.4H207 M187,644.3H207 M187,842.2H207 M187,1040.1H207"/>
<path d="M551.9,1138.3V1120 M916.8,1138.3V1120 M1281.7,1138.3V1120 M1646.6,1138.3V1120"/>
</g>
<text font-size="70.0" x="94.9" y="80.1">50</text>
<text font-size="70.0" x="96.55" y="265.0">40</text>
<text font-size="70.0" x="100.3" y="470.4">30</text>
<text font-size="70.0" x="101.3" y="664.3">20</text>
<text font-size="70.0" x="101.4" y="866.05">10</text>
<text font-size="70.0" x="133.6" y="1058.55">0</text>
<text font-size="70.0" x="112.95" y="1150.9">-5</text>
<text font-size="70.0" x="181.25" y="1204.5">0</text>
<text font-size="70.0" x="498.2" y="1204.7">800</text>
<text font-size="70.0" x="834.0" y="1204.7">1600</text>
<text font-size="70.0" x="1222.2" y="1204.7">2400</text>
<text font-size="70.0" x="1561.55" y="1204.7">3200</text>
<text font-size="70.0" x="1922.5" y="1206.15">4000</text>
<text font-size="67.13" transform="translate(890.4,1278.8) scale(1,1.03)">Frequency (Hz)</text>
<text font-size="66.46" transform="translate(1271.1,107.9) scale(1,1.03)">proposed approach</text>
<text font-size="66.9" transform="translate(1266.1,191.1) scale(1,1.03)">Ref. [22] experimental data</text>
<text font-size="67.31" transform="translate(69.0,893.45) rotate(-90) scale(1,1.03)">Transmission loss (dB)</text>
<path d="M1144,96.9H1253" stroke="#000" stroke-width="3.5" stroke-dasharray="16.3 14.9"/>
<circle cx="1204.8" cy="166.9" r="9.5" fill="none" stroke="#000" stroke-width="3"/>
</svg>
</body></html>
